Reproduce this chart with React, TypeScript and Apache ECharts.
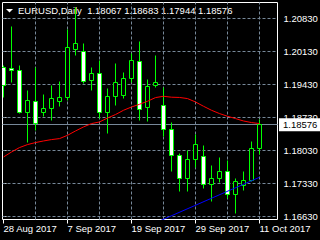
import React, { useEffect, useRef } from "react";
import * as echarts from "echarts";

const FONT = "'Liberation Sans', Arial, sans-serif";

const symbolName = "EURUSD,Daily";

const dates = [
  "2017-08-28", "2017-08-29", "2017-08-30", "2017-08-31", "2017-09-01",
  "2017-09-04", "2017-09-05", "2017-09-06", "2017-09-07", "2017-09-08",
  "2017-09-11", "2017-09-12", "2017-09-13", "2017-09-14", "2017-09-15",
  "2017-09-18", "2017-09-19", "2017-09-20", "2017-09-21", "2017-09-22",
  "2017-09-25", "2017-09-26", "2017-09-27", "2017-09-28", "2017-09-29",
  "2017-10-02", "2017-10-03", "2017-10-04", "2017-10-05", "2017-10-06",
  "2017-10-09", "2017-10-10", "2017-10-11",
];

const opens = [
  1.19795, 1.19774, 1.19731, 1.1884, 1.19074, 1.18826, 1.18915, 1.19074, 1.19159, 1.20177,
  1.20134, 1.19519, 1.19668, 1.18826, 1.19165, 1.19201, 1.19562, 1.19922, 1.18946, 1.19402,
  1.18989, 1.18473, 1.17913, 1.17434, 1.17837, 1.17907, 1.17307, 1.17434, 1.17589, 1.17095,
  1.17292, 1.17383, 1.18067,
];
const highs = [
  1.19837, 1.20665, 1.19837, 1.19307, 1.19795, 1.19222, 1.19413, 1.19498, 1.20601, 1.21068,
  1.20304, 1.19795, 1.19943, 1.19349, 1.1988, 1.19689, 1.20092, 1.20346, 1.1954, 1.20049,
  1.19371, 1.18613, 1.17964, 1.18034, 1.18367, 1.1814, 1.17716, 1.17879, 1.17822, 1.1744,
  1.17574, 1.1821, 1.18683,
];
const lows = [
  1.19159, 1.19477, 1.18819, 1.18204, 1.18459, 1.18741, 1.18671, 1.18968, 1.19095, 1.20049,
  1.19456, 1.19307, 1.18713, 1.18395, 1.18989, 1.19137, 1.19477, 1.18671, 1.18649, 1.1936,
  1.18316, 1.17574, 1.1715, 1.17165, 1.17667, 1.17228, 1.16952, 1.17341, 1.1701, 1.16692,
  1.17186, 1.17377, 1.17944,
];
const closes = [
  1.19413, 1.19721, 1.1884, 1.19095, 1.18607, 1.18925, 1.19137, 1.19159, 1.20219, 1.20304,
  1.19498, 1.19668, 1.18826, 1.19169, 1.19477, 1.19562, 1.19943, 1.18904, 1.19392, 1.19477,
  1.18473, 1.17928, 1.17434, 1.17837, 1.18162, 1.17313, 1.17434, 1.17589, 1.17095, 1.17362,
  1.17398, 1.18067, 1.18576,
];

const maValues = [
  1.17892, 1.17998, 1.18092, 1.18155, 1.18198, 1.18232, 1.18261, 1.18282, 1.18352, 1.18444,
  1.18529, 1.18601, 1.18635, 1.18719, 1.18792, 1.18883, 1.18953, 1.1901, 1.19074, 1.19152,
  1.1918, 1.1916, 1.19155, 1.19131, 1.19059, 1.18968, 1.18883, 1.18813, 1.18756, 1.18707,
  1.18656, 1.18622, 1.18601,
];

const trendLine = [
  [19, 1.16497],
  [32, 1.17462],
];

const priceTicks = [1.1663, 1.1733, 1.1803, 1.1873, 1.1943, 1.2013, 1.2083];
const dateTickBars = [0, 8, 16, 24, 32];
const gridBars = [4, 8, 12, 16, 20, 24, 28, 32];
const lastPrice = 1.18576;

const Y_MIN = 1.16566;
const Y_MAX = 1.21169;
const X_MIN = -0.125;
const X_MAX = 34.25;

const months = ["Jan", "Feb", "Mar", "Apr", "May", "Jun", "Jul", "Aug", "Sep", "Oct", "Nov", "Dec"];
function fmtDate(d: string) {
  const [y, m, day] = d.split("-");
  return `${+day} ${months[+m - 1]} ${y}`;
}

const last = dates.length - 1;
const titleText = `${symbolName}  ${opens[last].toFixed(5)} ${highs[last].toFixed(5)} ${lows[last].toFixed(5)} ${closes[last].toFixed(5)}`;

const candleRows = dates.map((_, i) => [i, opens[i], closes[i], lows[i], highs[i]]);

const snap = (v: number) => Math.round(v - 0.5) + 0.5;

function buildOption(): any {
  return {
    animation: false,
    backgroundColor: "#000",
    grid: {
      left: 2.5,
      top: 2.5,
      width: 275,
      height: 217,
      show: true,
      borderColor: "#fff",
      borderWidth: 1,
      backgroundColor: "transparent",
      containLabel: false,
      outerBoundsMode: "none",
    },
    graphic: [
      {
        type: "polygon",
        shape: { points: [[6, 9], [13, 9], [9.5, 12.5]] },
        style: { fill: "#fff" },
        silent: true,
      },
      {
        type: "text",
        x: 18,
        y: 10.5,
        style: {
          text: titleText,
          fill: "#fff",
          fontSize: 9.5,
          fontFamily: FONT,
          verticalAlign: "middle",
          align: "left",
        },
        silent: true,
      },
    ],
    xAxis: {
      type: "value",
      min: X_MIN,
      max: X_MAX,
      axisLine: { show: false },
      splitLine: { show: false },
      axisTick: {
        show: true,
        customValues: dateTickBars,
        length: 4,
        lineStyle: { color: "#fff", width: 1 },
      },
      axisLabel: {
        customValues: dateTickBars,
        formatter: (v: number) => fmtDate(dates[Math.round(v)] || dates[0]),
        color: "#fff",
        fontSize: 9.5,
        fontFamily: FONT,
        align: "left",
        margin: 4,
      },
    },
    yAxis: {
      type: "value",
      position: "right",
      min: Y_MIN,
      max: Y_MAX,
      axisLine: { show: false },
      splitLine: { show: false },
      axisTick: {
        show: true,
        customValues: priceTicks,
        length: 3,
        lineStyle: { color: "#fff", width: 1 },
      },
      axisLabel: {
        customValues: priceTicks,
        formatter: (v: number) => v.toFixed(5),
        color: "#fff",
        fontSize: 9.5,
        fontFamily: FONT,
        margin: 6,
      },
    },
    series: [
      {
        name: "grid",
        type: "line",
        data: [],
        z: 1,
        silent: true,
        markLine: {
          z: 1,
          silent: true,
          animation: false,
          precision: 6,
          symbol: ["none", "none"],
          label: { show: false },
          lineStyle: { color: "#778899", width: 1, type: [3, 2] },
          emphasis: { disabled: true },
          data: [
            ...priceTicks.map((v) => ({ yAxis: v })),
            ...gridBars.map((b) => ({ xAxis: b })),
            {
              yAxis: lastPrice,
              lineStyle: { color: "#778899", width: 1, type: "solid" },
              label: {
                show: true,
                position: "end",
                formatter: lastPrice.toFixed(5),
                backgroundColor: "#fff",
                color: "#000",
                padding: [2, 4, 1, 4],
                distance: 1.5,
                fontSize: 9.5,
                fontFamily: FONT,
              },
            },
          ],
        },
      },
      {
        name: "candles",
        type: "custom",
        z: 3,
        clip: true,
        data: candleRows,
        encode: { x: 0, y: [1, 2, 3, 4] },
        renderItem: (params: any, api: any) => {
          const i = api.value(0);
          const o = api.value(1);
          const c = api.value(2);
          const l = api.value(3);
          const h = api.value(4);
          const pO = api.coord([i, o]);
          const pC = api.coord([i, c]);
          const pL = api.coord([i, l]);
          const pH = api.coord([i, h]);
          const cx = snap(pO[0]);
          let top = snap(Math.min(pO[1], pC[1]));
          let bot = snap(Math.max(pO[1], pC[1]));
          if (bot - top < 1) bot = top + 1;
          const bull = c >= o;
          return {
            type: "group",
            children: [
              {
                type: "line",
                shape: { x1: cx, y1: snap(pH[1]), x2: cx, y2: snap(pL[1]) },
                style: { stroke: "#00ff00", lineWidth: 1 },
              },
              {
                type: "rect",
                shape: { x: cx - 2, y: top, width: 4, height: bot - top },
                style: { fill: bull ? "#000" : "#fff", stroke: "#00ff00", lineWidth: 1 },
              },
            ],
          };
        },
      },
      {
        name: "MA",
        type: "line",
        z: 4,
        data: maValues.map((v, i) => [i, v]),
        showSymbol: false,
        symbol: "none",
        silent: true,
        lineStyle: { color: "#ff0000", width: 1 },
        itemStyle: { color: "#ff0000" },
      },
      {
        name: "trend",
        type: "line",
        z: 5,
        data: trendLine,
        showSymbol: false,
        symbol: "none",
        silent: true,
        clip: true,
        lineStyle: { color: "#0000ff", width: 1 },
        itemStyle: { color: "#0000ff" },
      },
    ],
  };
}

export default function App() {
  const ref = useRef<HTMLDivElement>(null);
  useEffect(() => {
    document.body.style.margin = "0";
    document.body.style.background = "#000";
    const chart = echarts.init(ref.current!, null, { renderer: "svg" });
    chart.setOption(buildOption());
    return () => chart.dispose();
  }, []);
  return (
    <div
      ref={ref}
      style={{ position: "fixed", left: 0, top: 0, width: 320, height: 240, background: "#000" }}
    />
  );
}
